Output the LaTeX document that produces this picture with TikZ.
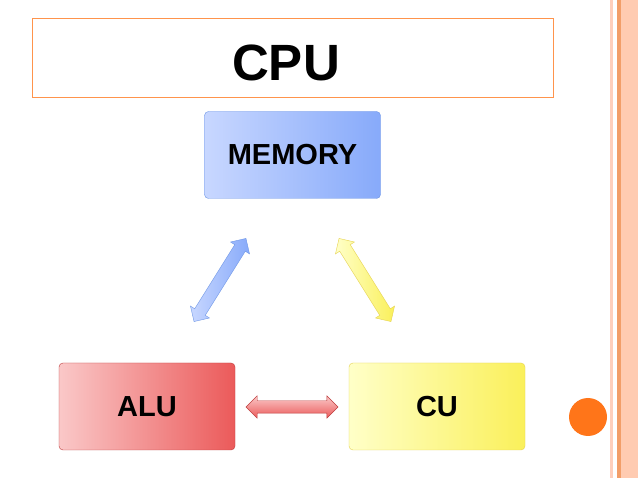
\documentclass[tikz,border=0pt]{standalone}
\usepackage{fontspec}
\setmainfont{Liberation Sans}
\usetikzlibrary{shapes.arrows}
\definecolor{bl1}{RGB}{200,215,255}\definecolor{bl2}{RGB}{135,170,250}\definecolor{blb}{RGB}{110,150,230}
\definecolor{rd1}{RGB}{250,200,200}\definecolor{rd2}{RGB}{235,90,90}\definecolor{rdb}{RGB}{190,60,60}
\definecolor{ye1}{RGB}{255,255,200}\definecolor{ye2}{RGB}{250,240,90}\definecolor{yeb}{RGB}{230,210,80}
\begin{document}
\begin{tikzpicture}[x=1pt,y=-1pt,
 box/.style={rounded corners=4pt,minimum width=176pt,minimum height=87pt,font=\bfseries\fontsize{29}{29}\selectfont,text=black},
 arr/.style={double arrow,double arrow head extend=5pt,minimum height=98pt,inner sep=0pt}]
\useasboundingbox (0,0) rectangle (638,478);
\fill[white] (0,0) rectangle (638,478);
\fill[orange!25!pink!60] (610,0) rectangle (613,478);
\fill[orange!40!pink!80!brown] (617,0) rectangle (621,478);
\fill[orange!35!pink!60] (621,0) rectangle (638,478);
\node[draw=orange!80!red!70,line width=1pt,minimum width=521pt,minimum height=79pt] (title) at (292.5,58.5) {};
\node[font=\bfseries\fontsize{51}{51}\selectfont] (cpu) at (286,63) {CPU};
\node[box,draw=blb,left color=bl1,right color=bl2] (mem) at (292.5,155) {MEMORY};
\node[box,draw=rdb,left color=rd1,right color=rd2] (alu) at (147,406.5) {ALU};
\node[box,draw=yeb,left color=ye1,right color=ye2] (cu) at (437,406.5) {CU};
\node[arr,draw=blb,left color=bl1,right color=bl2,rotate=58] (a1) at (220,280) {\vrule height 6pt depth 6pt width 0pt};
\node[arr,draw=yeb,left color=ye1,right color=ye2,rotate=-58] (a2) at (365,280) {\vrule height 6pt depth 6pt width 0pt};
\node[arr,draw=rdb,minimum height=92pt,top color=rd1,bottom color=rd2] (a3) at (292,407) {\vrule height 6pt depth 6pt width 0pt};
\fill[orange!80!red!90] (588,417) circle (19);
\end{tikzpicture}
\end{document}
